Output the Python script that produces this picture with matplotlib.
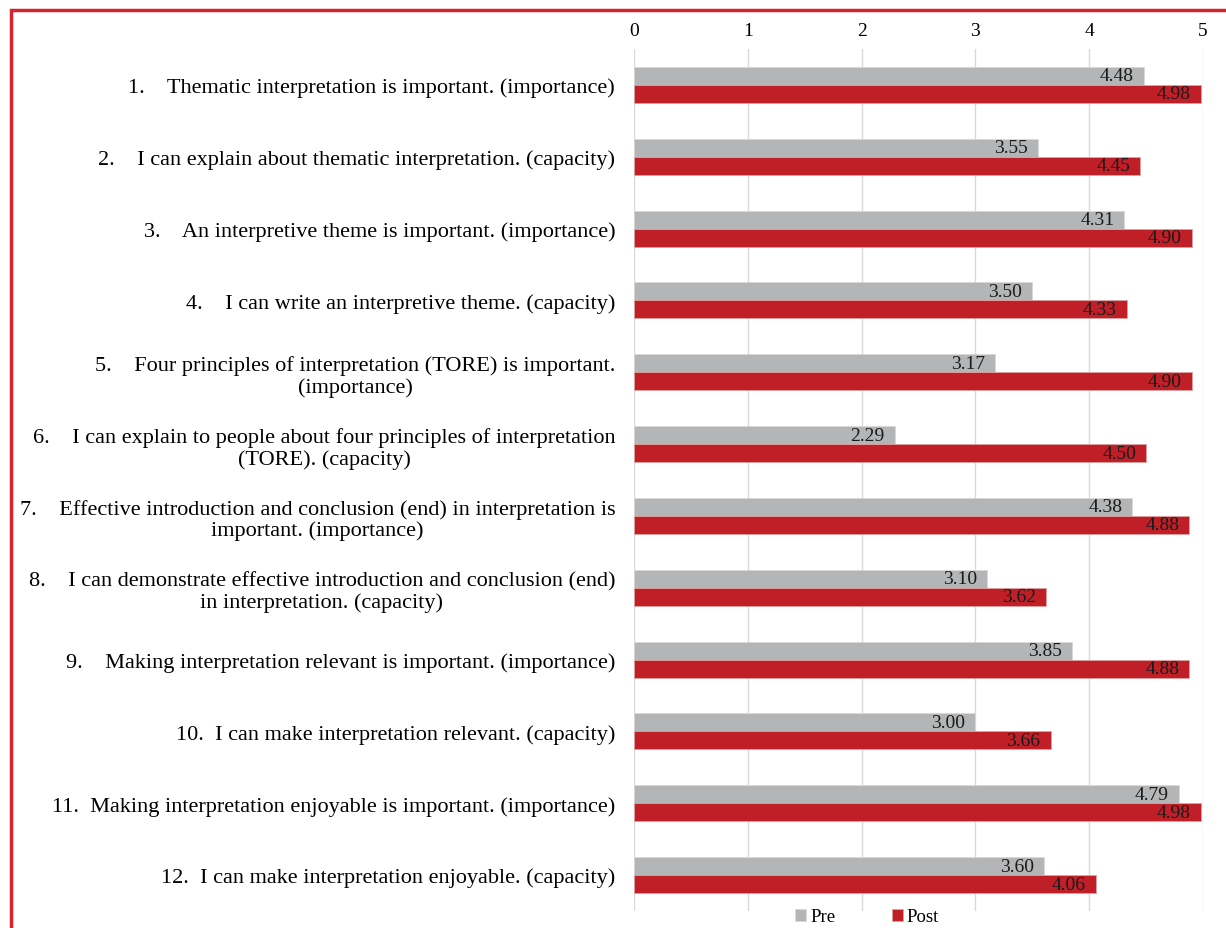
import matplotlib
matplotlib.use("Agg")
import matplotlib.pyplot as plt
from matplotlib.patches import Rectangle
import numpy as np

plt.rcParams['font.family'] = ['Liberation Serif', 'DejaVu Serif']

categories = [
    "1.    Thematic interpretation is important. (importance)",
    "2.    I can explain about thematic interpretation. (capacity)",
    "3.    An interpretive theme is important. (importance)",
    "4.    I can write an interpretive theme. (capacity)",
    "5.    Four principles of interpretation (TORE) is important.\n(importance)",
    "6.    I can explain to people about four principles of interpretation\n(TORE). (capacity)",
    "7.    Effective introduction and conclusion (end) in interpretation is\nimportant. (importance)",
    "8.    I can demonstrate effective introduction and conclusion (end)\nin interpretation. (capacity)",
    "9.    Making interpretation relevant is important. (importance)",
    "10.  I can make interpretation relevant. (capacity)",
    "11.  Making interpretation enjoyable is important. (importance)",
    "12.  I can make interpretation enjoyable. (capacity)",
]
pre = [4.48, 3.55, 4.31, 3.50, 3.17, 2.29, 4.38, 3.10, 3.85, 3.00, 4.79, 3.60]
post = [4.98, 4.45, 4.90, 4.33, 4.90, 4.50, 4.88, 3.62, 4.88, 3.66, 4.98, 4.06]
xticks = [0, 1, 2, 3, 4, 5]

gray = '#B3B5B6'
red = '#C11F28'

fig = plt.figure(figsize=(12.26, 9.29), dpi=100)
W, H = 1226, 929
ax = fig.add_axes([634 / W, 1 - 912 / H, (1203 - 634) / W, (912 - 50) / H])

y = np.arange(len(categories))
h = 0.25
b1 = ax.barh(y - h / 2, pre, height=h, color=gray, edgecolor='#d8d8d8', linewidth=0.6, label='Pre', zorder=3)
b2 = ax.barh(y + h / 2, post, height=h, color=red, edgecolor='#e0a0a0', linewidth=0.6, label='Post', zorder=3)

for v, yy in zip(pre, y - h / 2):
    ax.annotate(f"{v:.2f}", (v, yy), xytext=(-10, 0), textcoords='offset pixels',
                ha='right', va='center', fontsize=14, color='#1a1a1a', zorder=4)
for v, yy in zip(post, y + h / 2):
    ax.annotate(f"{v:.2f}", (v, yy), xytext=(-10, 0), textcoords='offset pixels',
                ha='right', va='center', fontsize=14, color='#1a1a1a', zorder=4)

ax.set_xlim(0, 5)
ax.set_ylim(len(categories) - 0.5, -0.5)
ax.set_xticks(xticks)
ax.xaxis.tick_top()
ax.tick_params(axis='x', length=0, labelsize=14, pad=7)
ax.set_yticks(y)
ax.set_yticklabels(categories, fontsize=16, multialignment='center', linespacing=1.15)
ax.tick_params(axis='y', length=0, pad=13.5)
for s in ax.spines.values():
    s.set_visible(False)
ax.grid(axis='x', color='#d9d9d9', linewidth=1, zorder=0)
ax.set_axisbelow(True)

fig.legend(handles=[b1, b2], labels=['Pre', 'Post'], loc='center', bbox_to_anchor=(867 / W, 1 - 918 / H),
           ncol=2, frameon=False, fontsize=13.5, handlelength=0.6, handleheight=0.6,
           handletextpad=0.2, columnspacing=3.0)

fig.patches.append(Rectangle((11 / W, -0.1), 1.2, 1 - 11 / H + 0.1, transform=fig.transFigure,
                             fill=False, edgecolor='#D7232E', linewidth=2.5, zorder=10))

fig.savefig('out.png', dpi=100)
